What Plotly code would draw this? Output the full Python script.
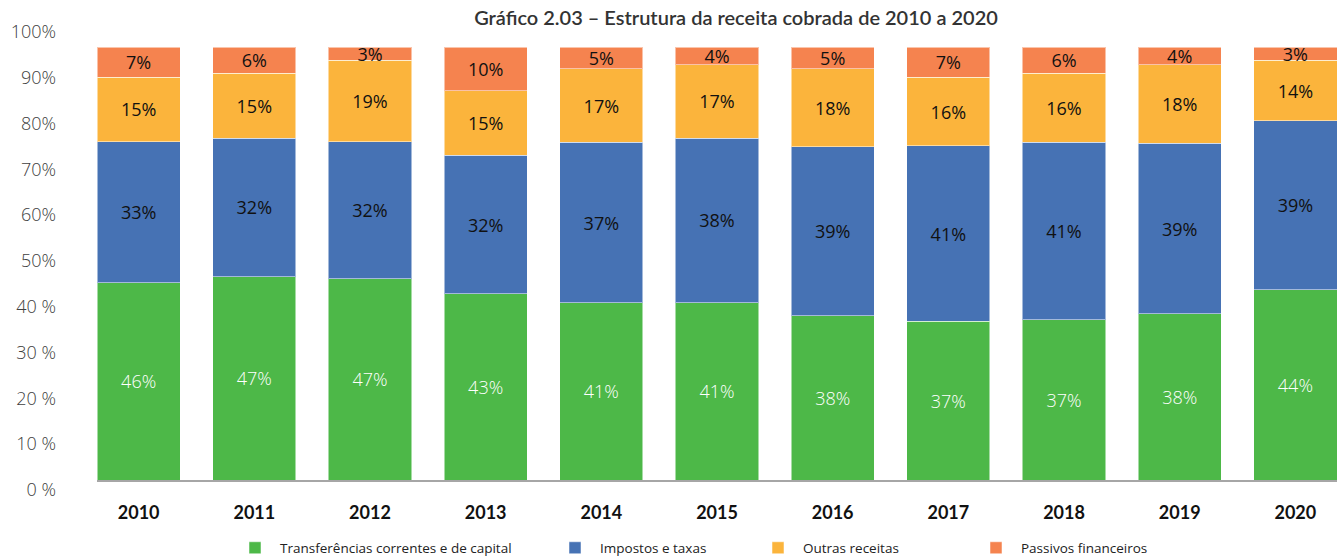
import plotly.graph_objects as go

years = ["2010", "2011", "2012", "2013", "2014", "2015", "2016", "2017", "2018", "2019", "2020"]
transferencias = [46, 47, 47, 43, 41, 41, 38, 37, 37, 38, 44]
impostos = [33, 32, 32, 32, 37, 38, 39, 41, 41, 39, 39]
outras = [15, 15, 19, 15, 17, 17, 18, 16, 16, 18, 14]
passivos = [7, 6, 3, 10, 5, 4, 5, 7, 6, 4, 3]

series_names = ["Transferências correntes e de capital", "Impostos e taxas", "Outras receitas", "Passivos financeiros"]
series_vals = [transferencias, impostos, outras, passivos]
colors = ["#4DB848", "#4672B4", "#FBB43C", "#F5834F"]
text_colors = ["white", "#111111", "#111111", "#111111"]
text_weights = [300, 400, 400, 400]
legend_ids = ["legend", "legend2", "legend3", "legend4"]
legend_left_px = [230, 550, 753, 971]

y_tickvals = [0, 10, 20, 30, 40, 50, 60, 70, 80, 90, 100]
y_ticktext = ["0 %", "10 %", "20 %", "30 %", "40 %", "50%", "60%", "70%", "80%", "90%", "100%"]

W, H = 1337, 560

fig = go.Figure()
for name, vals, col, tcol, tw, lg in zip(series_names, series_vals, colors, text_colors, text_weights, legend_ids):
    fig.add_trace(go.Bar(
        x=years, y=vals, name=name, legend=lg,
        marker=dict(color=col, line=dict(color="rgba(255,255,255,0.5)", width=1)),
        text=vals, texttemplate="%{text}%",
        textposition="inside", insidetextanchor="middle", constraintext="none",
        textangle=0,
        textfont=dict(family="Open Sans", size=18, color=tcol, weight=tw),
        hoverinfo="skip",
    ))

# invisible helper trace so the tick-label axis is drawn
fig.add_trace(go.Scatter(x=[years[0]] * len(y_tickvals), y=y_tickvals, yaxis="y2",
                         mode="markers", marker=dict(opacity=0), showlegend=False,
                         hoverinfo="skip"))

legend_common = dict(orientation="h", xanchor="left", xref="container",
                     y=1 - 548 / H, yanchor="middle", yref="container",
                     font=dict(family="Open Sans", size=13.5, color="#222222"),
                     itemwidth=40, itemclick=False, itemdoubleclick=False,
                     bgcolor="rgba(0,0,0,0)")
legends = {}
for lg, lx in zip(legend_ids, legend_left_px):
    legends[lg] = dict(legend_common, x=lx / W)

fig.update_layout(
    width=W, height=H,
    barmode="stack", barnorm="percent", bargap=0.28,
    paper_bgcolor="white", plot_bgcolor="rgba(0,0,0,0)",
    margin=dict(l=97, r=0, t=30, b=70),
    title=dict(text="Gráfico 2.03 – Estrutura da receita cobrada de 2010 a 2020",
               font=dict(family="Lato", size=20, color="#333333", weight=600),
               x=736 / W, xref="container", xanchor="center",
               y=1 - 18 / H, yref="container", yanchor="middle"),
    xaxis=dict(type="category", range=[-0.36, 10.36], showline=True, linecolor="#A6A6A6",
               linewidth=1.5, ticks="", ticklabelstandoff=16,
               tickfont=dict(family="Lato", size=18, color="#111111", weight="bold"),
               anchor="y", fixedrange=True),
    yaxis=dict(domain=[(490 - 480) / 460, (490 - 47.3) / 460], range=[0, 100],
               visible=False, showgrid=False, fixedrange=True),
    yaxis2=dict(domain=[0, 1], range=[0, 100.4], anchor="x", side="left",
                tickvals=y_tickvals, ticktext=y_ticktext, showgrid=False, zeroline=False,
                showline=False, ticks="", ticklabelstandoff=40, fixedrange=True,
                tickfont=dict(family="Open Sans", size=18, color="#404040", weight=300)),
    showlegend=True,
    **legends,
)

fig.write_html("out.html", post_script="document.body.style.margin='0';",
               config={"displayModeBar": False})
